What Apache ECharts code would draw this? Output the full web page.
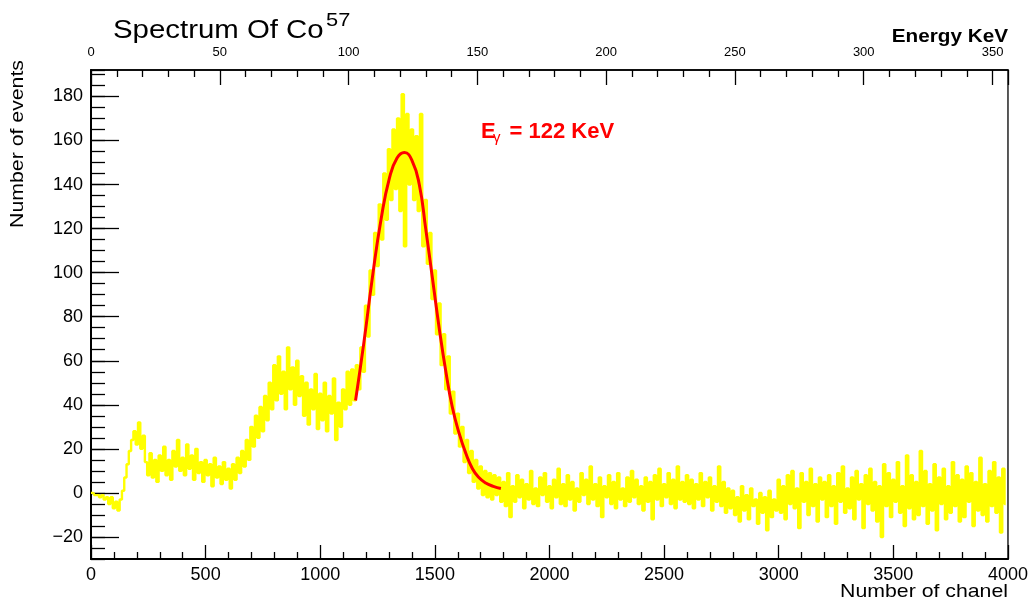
<!DOCTYPE html>
<html>
<head>
<meta charset="UTF-8">
<title>Spectrum Of Co57</title>
<script src="https://cdn.jsdelivr.net/npm/echarts@6/dist/echarts.min.js"></script>
<style>
  html, body { margin: 0; padding: 0; background: #fff; }
  #main { width: 1031px; height: 602px; }
</style>
</head>
<body>
<div id="main"></div>
<script>
var chanStep = 10;
var counts = [
  0, 0, -1, -1, -2, -1, -3, -2, -5, -2, -7, -4, -8, -3, 1, 7, 13, 19, 24, 28,          // 0-190
  22, 32, 20, 26, 14, 8, 18, 7, 15, 5, 17, 10, 21, 8, 15, 6, 19, 12, 24, 10,           // 200-390
  16, 8, 22, 11, 17, 6, 20, 9, 14, 5, 15, 8, 13, 3, 16, 7, 12, 4, 14, 6,               // 400-590
  11, 2, 13, 6, 16, 9, 19, 12, 24, 15, 30, 21, 35, 25, 39, 28, 44, 33, 50, 38,         // 600-790
  58, 42, 62, 45, 55, 38, 66, 47, 57, 40, 60, 44, 53, 35, 50, 31, 47, 38, 54, 29,      // 800-990
  45, 33, 50, 28, 44, 36, 52, 24, 41, 30, 47, 38, 55, 40, 56, 42, 58, 47, 66, 55,      // 1000-1190
  85, 71, 101, 90, 118, 103, 131, 115, 145, 124, 156, 133, 165, 138, 170, 128, 181, 112, 172, 140, // 1200-1390
  165, 133, 162, 128, 172, 112, 133, 104, 118, 88, 101, 72, 86, 58, 72, 47, 62, 36, 46, 27,        // 1400-1590
  36, 21, 30, 14, 24, 9, 19, 5, 15, 2, 12, -1, 10, -2, 9, -3, 8, -1, 7, -4,            // 1600-1790
  5, -6, 9, -11, 3, -4, 8, -2, 6, -7, 4, -3, 10, -5, 2, -6, 7, -1, 9, -4,              // 1800-1990
  3, -7, 6, -2, 11, -5, 4, -6, 8, -3, 5, -8, 2, -4, 9, -1, 6, -5, 12, -3,              // 2000-2190
  4, -6, 7, -11, 3, -2, 8, -5, 5, -7, 9, -3, 2, -6, 7, -4, 10, -2, 6, -5,              // 2200-2390
  3, -8, 7, -4, 5, -12, 8, -3, 11, -6, 4, -2, 9, -5, 6, -7, 12, -3, 5, -4,             // 2400-2590
  8, -5, 6, -7, 4, -3, 9, -6, 5, -2, 7, -8, 3, -4, 12, -6, 5, -9, 2, -7,               // 2600-2790
  1, -10, -2, -13, 3, -8, -1, -12, 2, -6, -3, -14, 0, -9, -2, -17, 1, -11, -3, -8,     // 2800-2990
  6, -9, 3, -12, 8, -5, 10, -7, 2, -16, 9, -4, 5, -10, 11, -6, 4, -13, 7, -3,          // 3000-3190
  5, -11, 8, -6, 3, -14, 9, -4, 12, -9, 2, -7, 7, -12, 10, -3, 4, -16, 8, -5,          // 3200-3390
  11, -8, 5, -13, 3, -20, 13, -6, 9, -11, 6, -4, 14, -9, 3, -15, 17, -7, 8, -12,       // 3400-3590
  5, -10, 19, -6, 10, -14, 4, -8, 13, -17, 7, -5, 11, -12, 3, -9, 14, -6, 8, -13,      // 3600-3790
  6, -11, 12, -4, 9, -15, 5, -8, 16, -10, 4, -13, 10, -6, 14, -9, 7, -18, 11, -5       // 3800-3990
];

// red fit curve
var fitChannels = [1154, 1190, 1229, 1265, 1302, 1335, 1367, 1400, 1432, 1460, 1490,
                   1520, 1548, 1576, 1606, 1635, 1664, 1692, 1722, 1755, 1788];
var fitValues = [42, 68, 99, 124, 143, 152, 154.5, 151, 140, 120, 97,
                 74, 55, 39, 27, 18, 11, 7, 4.5, 3, 2];

var yMajorTicks = [-20, 0, 20, 40, 60, 80, 100, 120, 140, 160, 180];

var font = 'Liberation Sans, Arial, Helvetica, sans-serif';

var spectrum = counts.map(function (v, i) { return [i * chanStep, v]; });
var fit = fitChannels.map(function (c, i) { return [c, fitValues[i]]; });

var chart = echarts.init(document.getElementById('main'));

var option = {
    animation: false,
    backgroundColor: '#fff',
    grid: {
        left: 91, right: 23, top: 70, bottom: 43,
        show: true, borderColor: '#000', borderWidth: 1.3
    },
    xAxis: [
        {
            type: 'value', position: 'bottom',
            min: 0, max: 4000, interval: 500,
            axisLine: { onZero: false, lineStyle: { color: '#000', width: 2 } },
            axisTick: { inside: true, length: 14, lineStyle: { color: '#000', width: 1.3 } },
            minorTick: { show: true, splitNumber: 5, length: 7, lineStyle: { color: '#000', width: 1.3 } },
            axisLabel: { fontSize: 18, color: '#000', fontFamily: font, margin: 7,
                         formatter: function (v) { return String(v); } },
            splitLine: { show: false }
        },
        {
            type: 'value', position: 'top',
            min: 0, max: 356, interval: 50,
            axisLine: { onZero: false, lineStyle: { color: '#000', width: 1.5 } },
            axisTick: { inside: true, length: 15, lineStyle: { color: '#000', width: 1.3 } },
            minorTick: { show: true, splitNumber: 5, length: 7, lineStyle: { color: '#000', width: 1.3 } },
            axisLabel: { fontSize: 13, color: '#000', fontFamily: font, margin: 11, showMaxLabel: false },
            splitLine: { show: false }
        }
    ],
    yAxis: [
        {
            type: 'value', position: 'left',
            min: -30, max: 192, interval: 5,
            axisLine: { show: true, onZero: false, lineStyle: { color: '#000', width: 2 } },
            axisTick: { inside: true, length: 14, lineStyle: { color: '#000', width: 1.3 } },
            axisLabel: {
                fontSize: 18, color: '#000', fontFamily: font, margin: 8,
                formatter: function (v) {
                    if (v % 20 !== 0) return '';
                    return v < 0 ? '\u2212' + (-v) : String(v);
                }
            },
            splitLine: { show: false }
        },
        {
            // long major ticks
            type: 'value', position: 'left',
            min: -30, max: 192,
            axisLine: { show: false, onZero: false },
            axisTick: { show: true, inside: true, length: 28, customValues: yMajorTicks,
                        lineStyle: { color: '#000', width: 1.3 } },
            axisLabel: { show: false },
            splitLine: { show: false }
        }
    ],
    series: [
        {
            name: 'spectrum', type: 'line', step: 'middle',
            xAxisIndex: 0, yAxisIndex: 0,
            data: spectrum, symbol: 'none', silent: true,
            lineStyle: { color: '#ffff00', width: 2.4 },
            itemStyle: { color: '#ffff00' },
            z: 2
        },
        {
            name: 'fit', type: 'line', smooth: true,
            xAxisIndex: 0, yAxisIndex: 0,
            data: fit, symbol: 'none', silent: true,
            lineStyle: { color: '#ff0000', width: 3 },
            itemStyle: { color: '#ff0000' },
            z: 3
        }
    ],
    graphic: [
        { type: 'text', x: 113, y: 31, scaleX: 1.13,
          style: { text: 'Spectrum Of Co', fontSize: 26, fontFamily: font, fill: '#000',
                   align: 'left', verticalAlign: 'middle' } },
        { type: 'text', x: 326, y: 21, scaleX: 1.15,
          style: { text: '57', fontSize: 19, fontFamily: font, fill: '#000',
                   align: 'left', verticalAlign: 'middle' } },
        { type: 'text', x: 1008, y: 37, scaleX: 1.15,
          style: { text: 'Energy KeV', fontSize: 18, fontWeight: 'bold', fontFamily: font, fill: '#000',
                   align: 'right', verticalAlign: 'middle' } },
        { type: 'text', x: 1008, y: 592, scaleX: 1.12,
          style: { text: 'Number of chanel', fontSize: 19, fontFamily: font, fill: '#000',
                   align: 'right', verticalAlign: 'middle' } },
        { type: 'text', x: 18, y: 60, rotation: Math.PI / 2, scaleX: 1.12,
          style: { text: 'Number of events', fontSize: 19, fontFamily: font, fill: '#000',
                   align: 'right', verticalAlign: 'middle' } },
        { type: 'text', x: 481, y: 131.7,
          style: { text: 'E', fontSize: 22, fontWeight: 'bold', fontFamily: font, fill: '#ff0000',
                   align: 'left', verticalAlign: 'middle' } },
        { type: 'text', x: 493, y: 138,
          style: { text: '\u03b3', fontSize: 15, fontFamily: font, fill: '#ff0000',
                   align: 'left', verticalAlign: 'middle' } },
        { type: 'text', x: 509.5, y: 131.7,
          style: { text: '= 122 KeV', fontSize: 22, fontWeight: 'bold', fontFamily: font, fill: '#ff0000',
                   align: 'left', verticalAlign: 'middle' } }
    ]
};

chart.setOption(option);
</script>
</body>
</html>
